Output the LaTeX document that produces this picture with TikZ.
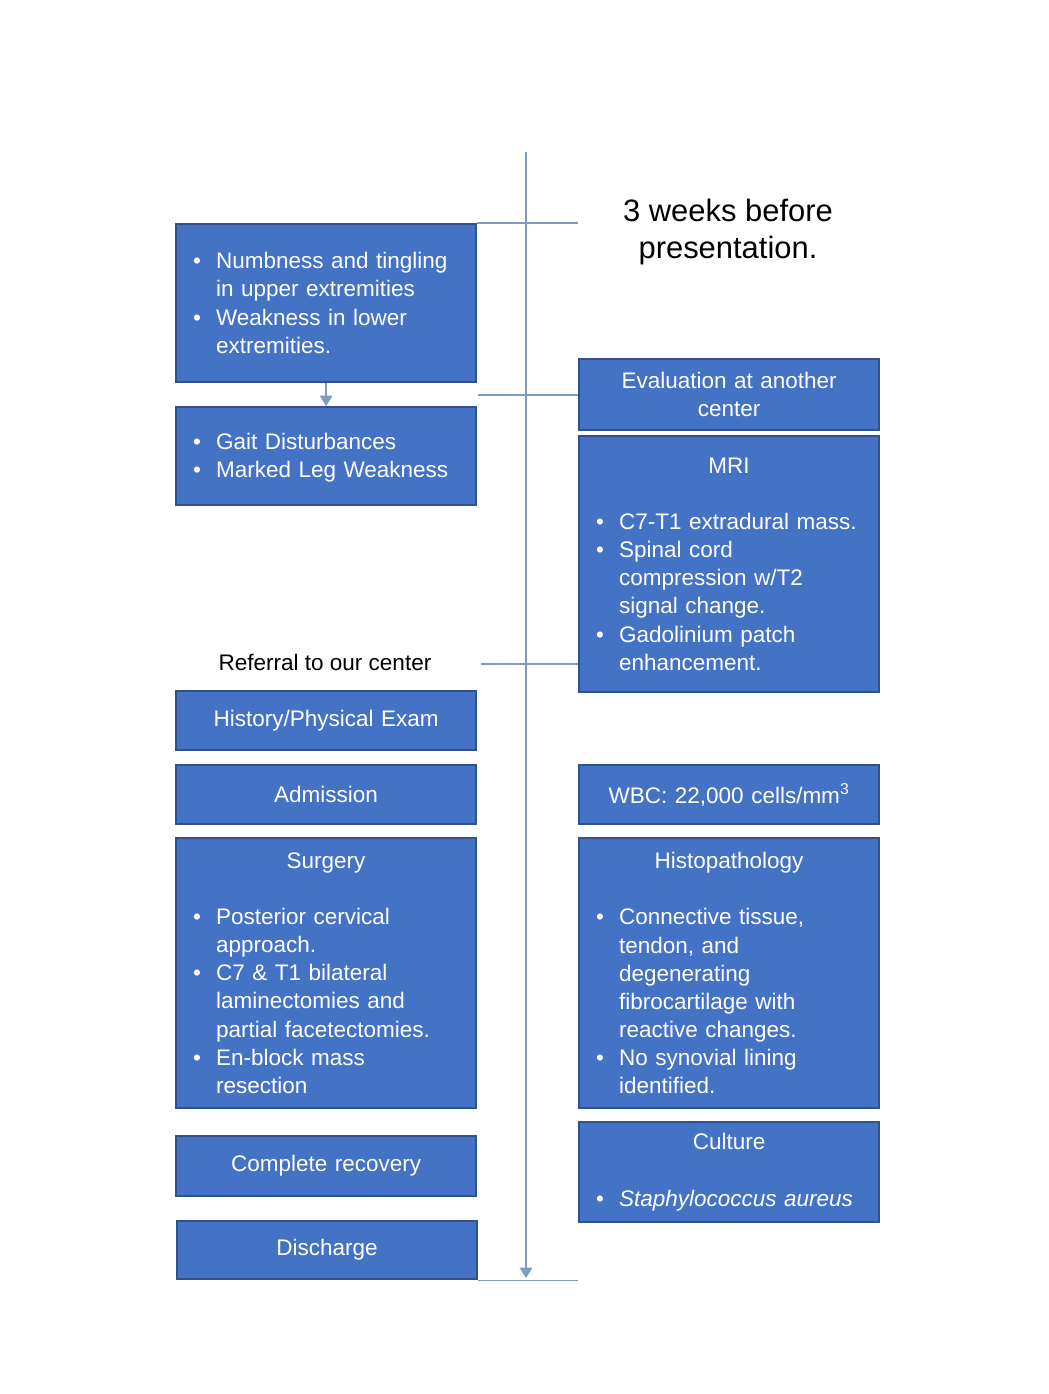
\documentclass[tikz,border=0pt]{standalone}
\usepackage{fontspec}
\setmainfont{Liberation Sans}
\usepackage{xcolor}
\usepackage{tikz}
\usetikzlibrary{arrows.meta}
\setlength{\parindent}{0pt}
\definecolor{boxblue}{RGB}{68,114,196}
\definecolor{boxedge}{RGB}{47,82,143}
\definecolor{lineblue}{RGB}{125,155,195}
\newcommand{\bitem}{\par\noindent\hangindent=0.575cm\hangafter=1\makebox[0.575cm][l]{\textbullet}}
\newcommand{\boxhead}[1]{{\centering #1\par}\vspace{\baselineskip}}
\tikzset{
  evbox/.style={rectangle, fill=boxblue, draw=boxedge, line width=1.5pt, text=white,
    anchor=north west, minimum width=7.5cm, text width=6.65cm, inner xsep=0.425cm,
    inner ysep=3pt, font=\fontsize{16}{20}\selectfont},
  midbox/.style={evbox, align=center},
  tl/.style={draw=lineblue, line width=0.9pt},
  tltip/.style={-{Triangle[width=0.32cm,length=0.26cm]}}
}
\begin{document}
\begin{tikzpicture}[x=0.025cm, y=-0.025cm]
        \useasboundingbox[fill=white] (0,0) rectangle (1049,1394);

        % Timeline
        \coordinate (tTop) at (526,152);
        \coordinate (tEnd) at (526,1278);
        \draw[tl, tltip] (tTop) -- (tEnd);

        % Left column
        \node[evbox, minimum height=3.95cm] (sympA) at (175,223)
          {\bitem Numbness and tingling\newline in upper extremities
           \bitem Weakness in lower\newline extremities.\par\vspace{0.3cm}};
        \node[evbox, minimum height=2.45cm] (sympB) at (175,406)
          {\bitem Gait Disturbances
           \bitem Marked Leg Weakness\par\vspace{0.2cm}};
        \node[font=\fontsize{16}{20}\selectfont] (referral) at (325,662) {Referral to our center};
        \node[midbox, minimum height=1.475cm] (hist) at (175,690) {History/Physical Exam};
        \node[midbox, minimum height=1.475cm] (admit) at (175,764) {Admission};
        \node[evbox, minimum height=6.75cm] (surg) at (175,837)
          {\boxhead{Surgery}
           \bitem Posterior cervical\newline approach.
           \bitem C7 \& T1 bilateral\newline laminectomies and\newline partial facetectomies.
           \bitem En-block mass\newline resection\par};
        \node[midbox, minimum height=1.5cm] (recov) at (175,1135) {Complete recovery};
        \node[midbox, minimum height=1.45cm] (disch) at (176,1220) {Discharge};

        % Right column
        \node[align=center, font=\fontsize{22}{26.5}\selectfont] (title) at (728,232)
          {3 weeks before\\presentation.};
        \node[midbox, minimum height=1.775cm] (evalc) at (578,358) {Evaluation at another\\center};
        \node[evbox, minimum height=6.4cm] (mri) at (578,435)
          {\boxhead{MRI}
           \bitem C7-T1 extradural mass.
           \bitem Spinal cord\newline compression w/T2\newline signal change.
           \bitem Gadolinium patch\newline enhancement.\par};
        \node[midbox, minimum height=1.475cm] (wbc) at (578,764)
          {WBC: 22,000 cells/mm\textsuperscript{3}};
        \node[evbox, minimum height=6.75cm] (histo) at (578,837)
          {\boxhead{Histopathology}
           \bitem Connective tissue,\newline tendon, and\newline degenerating\newline fibrocartilage with\newline reactive changes.
           \bitem No synovial lining\newline identified.\par};
        \node[evbox, minimum height=2.5cm] (cult) at (578,1121)
          {\boxhead{Culture}
           \bitem \textit{Staphylococcus aureus}\par};

        % Ticks
        \coordinate (m1) at (578,223);
        \coordinate (m2) at (478,395);
        \coordinate (m3) at (481,664);
        \coordinate (m4) at (578,1278);
        \draw[tl] (sympA.north east) -- (sympA.north east -| m1);
        \draw[tl] (m2) -- (m2 -| evalc.west);
        \draw[tl] (m3) -- (m3 -| mri.west);
        \draw[tl] (disch.south east) -- (disch.south east -| m4);
        \draw[tl, tltip] (sympA.south) -- (sympB.north);
\end{tikzpicture}
\end{document}
